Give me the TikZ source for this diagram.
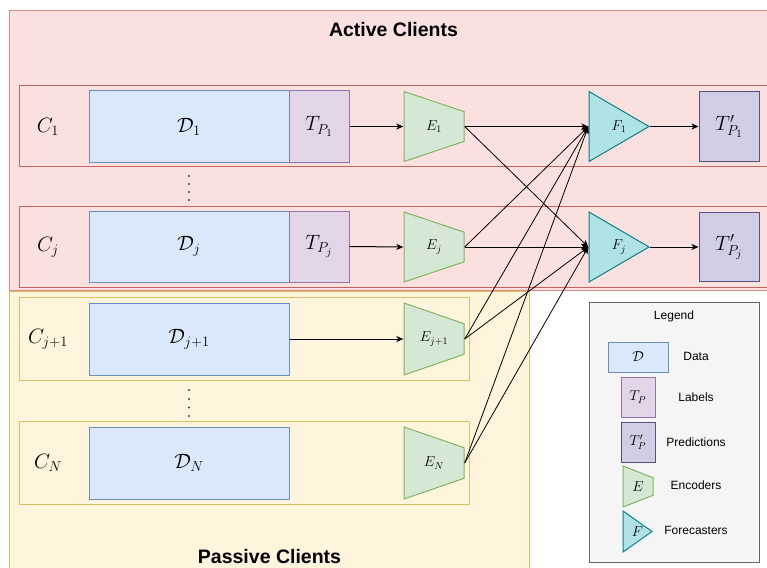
\documentclass[tikz,border=0pt]{standalone}
\usepackage{fontspec}
\newfontfamily\arial{Liberation Sans}
\usetikzlibrary{arrows.meta,calc}
\definecolor{pinkF}{HTML}{FAE1DF}
\definecolor{pinkS}{HTML}{D88C88}
\definecolor{rowS}{HTML}{C8625E}
\definecolor{yelF}{HTML}{FFF5DD}
\definecolor{yelS}{HTML}{DDBE66}
\definecolor{dataF}{HTML}{DAE8FC}
\definecolor{dataS}{HTML}{6C8EBF}
\definecolor{labF}{HTML}{E1D5E7}
\definecolor{labS}{HTML}{9673A6}
\definecolor{predF}{HTML}{D0CEE2}
\definecolor{predS}{HTML}{56517E}
\definecolor{encF}{HTML}{D5E8D4}
\definecolor{encS}{HTML}{82B366}
\definecolor{fcF}{HTML}{B0E3E6}
\definecolor{fcS}{HTML}{0E8088}
\definecolor{legF}{HTML}{F5F5F5}
\definecolor{legS}{HTML}{666666}
\begin{document}
\begin{tikzpicture}[x=1pt,y=-1pt,
  bigmath/.style={font=\fontsize{21}{25}\selectfont},
  smallmath/.style={font=\fontsize{14}{17}\selectfont},
  databox/.style={draw=dataS, fill=dataF, line width=1pt, inner sep=0pt,
    minimum width=200pt, minimum height=71pt, bigmath},
  labelbox/.style={draw=labS, fill=labF, line width=1pt, inner sep=0pt,
    minimum width=60pt, minimum height=71pt, bigmath},
  predbox/.style={draw=predS, fill=predF, line width=1pt, inner sep=0pt,
    minimum width=60pt, minimum height=69pt, bigmath},
  encoder/.style={inner sep=0pt, minimum width=61pt, minimum height=71pt, smallmath,
    path picture={\filldraw[draw=encS, fill=encF, line width=1pt]
      let \p1=(path picture bounding box.north west),
          \p2=(path picture bounding box.south east),
          \n1={0.29*(\y1-\y2)} in
      (\x1+0.5pt,\y1-0.5pt) -- (\x2-0.5pt,{\y1-\n1*1pt}) --
      (\x2-0.5pt,{\y2+\n1*1pt}) -- (\x1+0.5pt,\y2+0.5pt) -- cycle;}},
  forecaster/.style={inner sep=0pt, minimum width=61pt, minimum height=71pt, smallmath,
    path picture={\filldraw[draw=fcS, fill=fcF, line width=1pt]
      let \p1=(path picture bounding box.north west),
          \p2=(path picture bounding box.south east) in
      (\x1+0.5pt,\y1-0.5pt) -- (\x2-0.5pt,{(\y1+\y2)/2}) --
      (\x1+0.5pt,\y2+0.5pt) -- cycle;}},
  conn/.style={line width=1pt, -{Stealth[length=7pt,width=6pt,inset=2pt]}},
  cross/.style={line width=0.8pt, -{Stealth[length=7pt,width=6pt,inset=2pt]}},
  title/.style={font=\arial\bfseries\fontsize{19.5}{22}\selectfont, inner sep=0pt},
  legtext/.style={font=\arial\fontsize{12}{14}\selectfont, inner sep=0pt, anchor=base},
  rowlabel/.style={bigmath, inner sep=0pt},
  dot/.style={fill=black!75}
]
\useasboundingbox (0,0) rectangle (767,567);
\begin{scope}
\clip (0,0) rectangle (767,567);
% regions
\draw[fill=yelF, draw=yelS, line width=1pt] (9,291) rectangle (529,600);
\draw[fill=pinkF, draw=pinkS, line width=1pt] (9,11) rectangle (800,290);
% active rows
\draw[draw=rowS, line width=1pt] (19,86) rectangle (800,166);
\draw[draw=rowS, line width=1pt] (19,206) rectangle (800,287);
\end{scope}
% passive rows
\draw[draw=yelS, line width=1pt] (19,297) rectangle (469,380.5);
\draw[draw=yelS, line width=1pt] (19,421.5) rectangle (469,504.5);

% titles
\node[title] (tA) at (393.5,30) {Active Clients};
\node[title] (tP) at (269.5,557) {Passive Clients};

% row labels
\node[rowlabel] (C1) at (48,127) {$C_1$};
\node[rowlabel] (Cj) at (48,247) {$C_j$};
\node[rowlabel] (Cj1) at (48,339) {$C_{j+1}$};
\node[rowlabel] (CN) at (48,463) {$C_N$};

% data and labels
\node[databox] (D1) at (189,126.5) {$\mathcal{D}_1$};
\node[labelbox] (TP1) at (319,126.5) {$T_{P_1}$};
\node[databox] (Dj) at (189,246.5) {$\mathcal{D}_j$};
\node[labelbox] (TPj) at (319,246.5) {$T_{P_j}$};
\node[databox, minimum height=72pt] (Dj1) at (189,339) {$\mathcal{D}_{j+1}$};
\node[databox, minimum height=72pt] (DN) at (189,463) {$\mathcal{D}_N$};

% dots
\foreach \yy in {176,184,192,200} \fill[dot] (189,\yy) circle (1.2);
\foreach \yy in {390,399,407.5,416} \fill[dot] (189,\yy) circle (1.2);

% encoders
\node[encoder] (E1) at (434,126.5) {$E_1$};
\node[encoder] (Ej) at (434,247) {$E_j$};
\node[encoder, minimum height=73pt] (Ej1) at (434,339) {$E_{j+1}$};
\node[encoder, minimum height=73pt] (EN) at (434,463) {$E_N$};

% forecasters
\node[forecaster] (F1) at (619,126.5) {$F_1$};
\node[forecaster] (Fj) at (619,247) {$F_j$};

% predictions
\node[predbox] (O1) at (729,126.5) {$T'_{P_1}$};
\node[predbox] (Oj) at (729,247) {$T'_{P_j}$};

% connectors
\draw[conn] (TP1.east) -- (E1.west);
\draw[conn] (TPj.east) -- (Ej.west);
\draw[conn] (Dj1.east) -- (Ej1.west);
\draw[conn] (E1.east) -- (F1.west);
\draw[cross] (E1.east) -- (Fj.west);
\draw[cross] (Ej.east) -- (F1.west);
\draw[conn] (Ej.east) -- (Fj.west);
\draw[cross] (Ej1.east) -- (F1.west);
\draw[cross] (Ej1.east) -- (Fj.west);
\draw[cross] (EN.east) -- (F1.west);
\draw[cross] (EN.east) -- (Fj.west);
\draw[conn] (F1.east) -- (O1.west);
\draw[conn] (Fj.east) -- (Oj.west);

% legend
\draw[fill=legF, draw=legS, line width=1pt] (589,302) rectangle (759,562);
\node[legtext] (lg) at (674,319) {Legend};
\node[databox, minimum width=60pt, minimum height=30pt, smallmath] (LD) at (638,357) {$\mathcal{D}$};
\node[labelbox, minimum width=34pt, minimum height=40pt, smallmath] (LT) at (638,397) {$T_P$};
\node[predbox, minimum width=34pt, minimum height=40pt, smallmath] (LP) at (638,442) {$T'_P$};
\node[encoder, minimum width=31pt, minimum height=42pt] (LE) at (638,486.5) {$E$};
\node[forecaster, minimum width=30pt, minimum height=42pt] (LF) at (637.5,531.5) {$F$};
\node[legtext] (lD) at (696,360.5) {Data};
\node[legtext] (lT) at (696,401) {Labels};
\node[legtext] (lP) at (696,446) {Predictions};
\node[legtext] (lE) at (696,489.3) {Encoders};
\node[legtext] (lF) at (696,534.3) {Forecasters};
\end{tikzpicture}
\end{document}
